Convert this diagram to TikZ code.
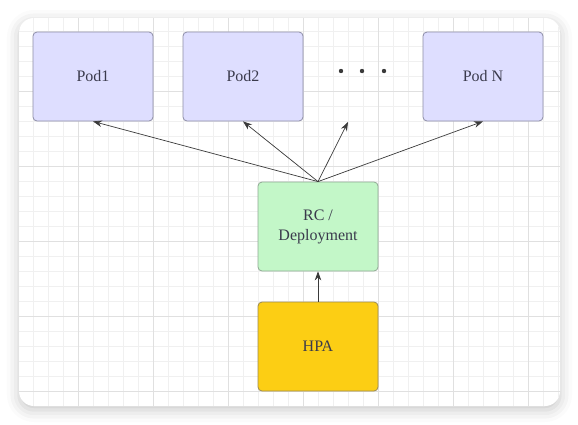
\documentclass[tikz,border=0pt]{standalone}
\usepackage{fontspec}
\setmainfont{Liberation Serif}
\usetikzlibrary{arrows.meta,shadows.blur}

\definecolor{podfill}{HTML}{DEDEFF}
\definecolor{podline}{HTML}{8C8CA6}
\definecolor{rcfill}{HTML}{C3F7C8}
\definecolor{rcline}{HTML}{8FA893}
\definecolor{hpafill}{HTML}{FCCE14}
\definecolor{hpaline}{HTML}{9C8A52}
\definecolor{txtcol}{HTML}{3A3A4C}
\definecolor{arrcol}{HTML}{3A3A3A}
\definecolor{gridminor}{HTML}{F0F0F0}
\definecolor{gridmajor}{HTML}{E0E0E0}

\tikzset{
    box/.style={rounded corners=4pt, line width=0.8pt, minimum width=120pt,
        minimum height=89pt, align=center, text=txtcol,
        font=\fontsize{16}{20}\selectfont},
    podbox/.style={box, fill=podfill, draw=podline},
    link/.style={draw=arrcol, line width=0.7pt, -{Stealth[length=9pt,width=6.5pt]}}
}

\begin{document}
\begin{tikzpicture}[x=1pt, y=-1pt]
    \useasboundingbox (0,0) rectangle (578,424);

    % Card with soft shadow
    \fill[white, rounded corners=15pt,
        blur shadow={shadow xshift=0pt, shadow yshift=-4pt, shadow blur radius=12pt, shadow opacity=22}]
        (19,18) rectangle (560,406);

    % Grid
    \begin{scope}
        \clip[rounded corners=15pt] (19,18) rectangle (560,406);
        \foreach \x in {18,33,...,558}
            \draw[gridminor, line width=0.6pt] (\x,18) -- (\x,406);
        \foreach \y in {16,31,...,406}
            \draw[gridminor, line width=0.6pt] (19,\y) -- (560,\y);
        \foreach \x in {78,153,...,528}
            \draw[gridmajor, line width=0.7pt] (\x,18) -- (\x,406);
        \foreach \y in {16,91,...,391}
            \draw[gridmajor, line width=0.7pt] (19,\y) -- (560,\y);
    \end{scope}

    % Pods
    \node[podbox] (pod1) at (93,76.5) {Pod1};
    \node[podbox] (pod2) at (243,76.5) {Pod2};
    \node[podbox] (podn) at (483,76.5) {Pod N};

    % Dots between Pod2 and Pod N
    \foreach \x in {341,362,384}
        \fill[arrcol] (\x,71) circle (2.2pt);
    \coordinate (more) at (348,122);

    % Controller and autoscaler
    \node[box, fill=rcfill, draw=rcline] (rc) at (318,226.5) {RC /\\Deployment};
    \node[box, fill=hpafill, draw=hpaline] (hpa) at (318,346.5) {HPA};

    % Connectors
    \draw[link] (rc.north) -- (pod1.south);
    \draw[link] (rc.north) -- (pod2.south);
    \draw[link] (rc.north) -- (more);
    \draw[link] (rc.north) -- (podn.south);
    \draw[link] (hpa.north) -- (rc.south);
\end{tikzpicture}
\end{document}
